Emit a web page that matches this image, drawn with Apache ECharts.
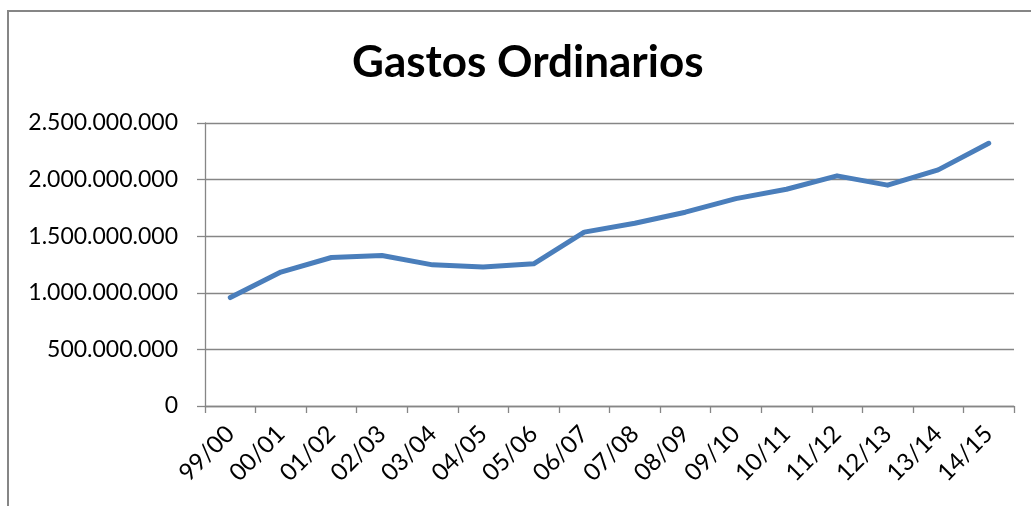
<!DOCTYPE html>
<html>
<head>
<meta charset="utf-8">
<script src="https://cdn.jsdelivr.net/npm/echarts@6/dist/echarts.min.js"></script>
<style>
  html, body { margin: 0; padding: 0; background: #fff; }
  #main { width: 1031px; height: 506px; }
</style>
</head>
<body>
<div id="main"></div>
<script>
const categories = ['99/00', '00/01', '01/02', '02/03', '03/04', '04/05', '05/06', '06/07',
  '07/08', '08/09', '09/10', '10/11', '11/12', '12/13', '13/14', '14/15'];
const gastos = [958000000, 1183000000, 1312000000, 1329000000, 1247000000, 1227000000,
  1256000000, 1536000000, 1615000000, 1712000000, 1832000000, 1915000000,
  2033000000, 1951000000, 2086000000, 2321000000];
const yTicks = [0, 500000000, 1000000000, 1500000000, 2000000000, 2500000000];

const fmt = (v) => String(v).replace(/\B(?=(\d{3})+(?!\d))/g, '.');
const gray = '#868686';

const chart = echarts.init(document.getElementById('main'));
chart.setOption({
  animation: false,
  title: {
    text: 'Gastos Ordinarios',
    left: 347,
    top: 36,
    textStyle: { fontFamily: 'Lato', fontWeight: 'bold', fontSize: 44, color: '#000' }
  },
  graphic: [{
    type: 'rect',
    shape: { x: 8, y: 11, width: 1100, height: 600 },
    style: { fill: 'none', stroke: gray, lineWidth: 2 }
  }],
  grid: { left: 205, right: 17, top: 123, bottom: 100, containLabel: false },
  xAxis: {
    type: 'category',
    data: categories,
    boundaryGap: true,
    axisLine: { lineStyle: { color: gray, width: 1.3 } },
    axisTick: { show: true, length: 7, lineStyle: { color: gray, width: 1.3 } },
    axisLabel: { rotate: 45, interval: 0, margin: 24, color: '#000', fontFamily: 'Lato', fontSize: 24 }
  },
  yAxis: {
    type: 'value',
    min: yTicks[0],
    max: yTicks[yTicks.length - 1],
    interval: 500000000,
    axisLine: { show: true, lineStyle: { color: gray, width: 1.3 } },
    axisTick: { show: true, length: 8, lineStyle: { color: gray, width: 1.3 } },
    splitLine: { lineStyle: { color: gray, width: 1.3 } },
    axisLabel: { margin: 27, color: '#000', fontFamily: 'Lato', fontSize: 23, formatter: fmt }
  },
  series: [{
    type: 'line',
    data: gastos,
    symbol: 'none',
    lineStyle: { color: '#4A7EBB', width: 5, cap: 'round', join: 'round' }
  }]
});
</script>
</body>
</html>
